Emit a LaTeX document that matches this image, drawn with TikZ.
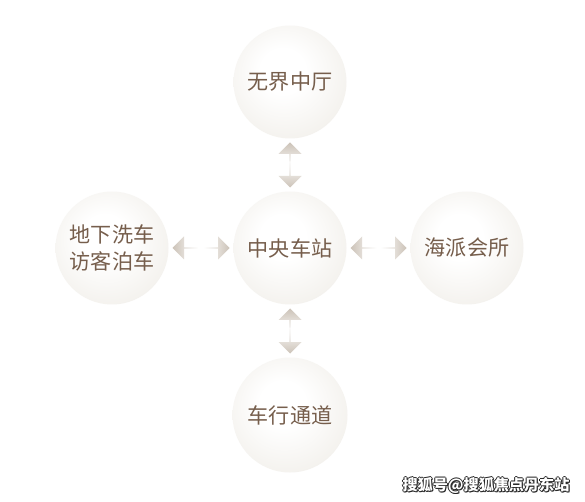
\documentclass[tikz,border=0pt]{standalone}
\usepackage{xcolor,fontspec}
\usetikzlibrary{shapes.arrows}
\newfontfamily\cjk{Noto Sans CJK SC}
\definecolor{textBrown}{RGB}{118, 94, 76}
\definecolor{ballIn}{RGB}{244, 242, 238}
\definecolor{ballMid}{RGB}{236, 232, 226}
\definecolor{ballEdge}{RGB}{224, 218, 210}
\definecolor{arrowTip}{RGB}{204, 195, 184}
\pgfdeclareradialshading{bubble}{\pgfpoint{-4bp}{6bp}}{color(0bp)=(white); color(10bp)=(white); color(28bp)=(ballIn); color(42bp)=(ballMid); color(50bp)=(ballEdge)}
\tikzset{
	stop/.style={circle, minimum size=2.26cm, inner sep=0pt, outer sep=0.07cm, shading=bubble, text=textBrown, font=\cjk\fontsize{12}{15.5}\selectfont, align=center},
	halfarrow/.style={single arrow, draw=none, inner sep=0pt, minimum width=0.46cm, minimum height=0.52cm, single arrow head extend=0.14cm, anchor=tip},
	marktext/.style={font=\cjk\bfseries\fontsize{8.6}{10}\selectfont}
}
\begin{document}
\begin{tikzpicture}
				\fill[white] (0,0) rectangle (11.7,10.02);
				\useasboundingbox (0,0) rectangle (11.7,10.02);
				\draw (5.8,5.06) node[stop] (M) {中央车站};
				\draw (5.8,8.38) node[stop] (T) {无界中厅};
				\draw (5.8,1.72) node[stop, minimum size=2.3cm] (B) {车行通道};
				\draw (2.24,5.06) node[stop] (L) {地下洗车\\访客泊车};
				\draw (9.34,5.06) node[stop] (R) {海派会所};
		
				\path
				(T.south) -- (M.north)
					node[at start, halfarrow, shape border rotate=90, top color=arrowTip, bottom color=white] {}
					node[at end, halfarrow, shape border rotate=270, bottom color=arrowTip, top color=white] {}
				(M.south) -- (B.north)
					node[at start, halfarrow, shape border rotate=90, top color=arrowTip, bottom color=white] {}
					node[at end, halfarrow, shape border rotate=270, bottom color=arrowTip, top color=white] {}
				(L.east) -- (M.west)
					node[at start, halfarrow, shape border rotate=180, left color=arrowTip, right color=white] {}
					node[at end, halfarrow, right color=arrowTip, left color=white] {}
				(M.east) -- (R.west)
					node[at start, halfarrow, shape border rotate=180, left color=arrowTip, right color=white] {}
					node[at end, halfarrow, right color=arrowTip, left color=white] {}
				;
		
				% watermark
				\foreach \dx/\dy in {-0.02/0, 0.02/0, 0/-0.02, 0/0.02, 0.02/-0.02}
					\node[marktext, text=black!85] at (9.72+\dx,0.32+\dy) {搜狐号@搜狐焦点丹东站};
				\node[marktext, text=white] (W) at (9.72,0.32) {搜狐号@搜狐焦点丹东站};
			\end{tikzpicture}
\end{document}
